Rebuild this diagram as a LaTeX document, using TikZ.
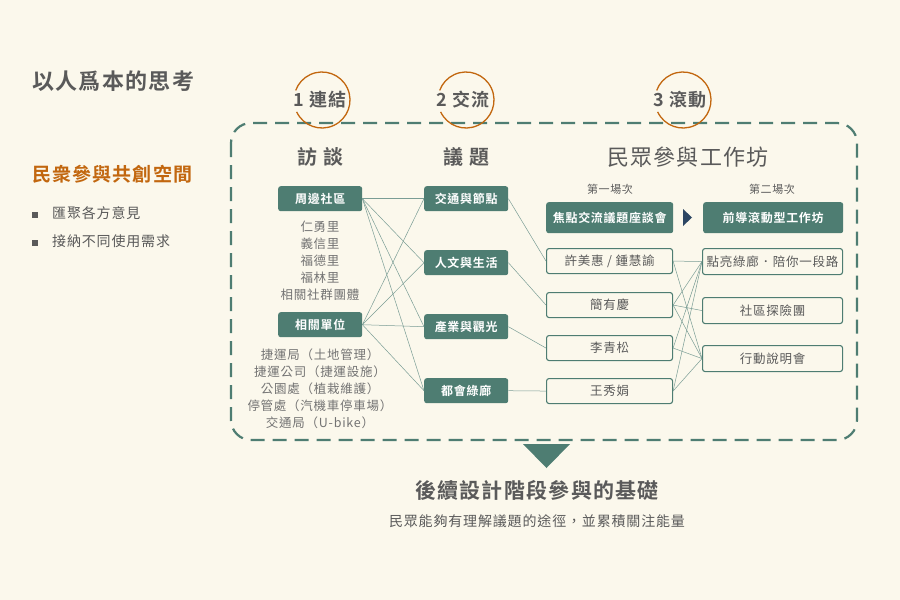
\documentclass[tikz,border=0pt]{standalone}
\usepackage{fontspec}
\newfontfamily\cjk{Noto Sans CJK TC}[LetterSpace=6]
\newfontfamily\cjkb{Noto Sans CJK TC Bold}[LetterSpace=6]
\definecolor{bg}{HTML}{FBF8EC}
\definecolor{gr}{HTML}{4E7D72}
\definecolor{tx}{HTML}{5A5A5A}
\definecolor{og}{HTML}{C2670F}
\begin{document}
\begin{tikzpicture}[x=1pt,y=-1pt,
  fbox/.style={fill=gr,rounded corners=2.5pt,text=white,font=\cjkb\fontsize{12}{14}\selectfont,inner sep=0pt,anchor=north west},
  obox/.style={draw=gr,line width=1.1pt,fill=bg,rounded corners=2.5pt,text=tx,font=\cjk\fontsize{12.5}{14}\selectfont,inner sep=0pt,anchor=north west},
  lnk/.style={draw=gr!75,line width=0.5pt},
  sub/.style={text=tx,font=\cjk\fontsize{12.5}{14}\selectfont,inner sep=0pt},
  head/.style={text=tx,font=\cjkb\fontsize{20}{22}\selectfont,inner sep=0pt},
  stp/.style={text=tx,font=\cjkb\fontsize{18}{20}\selectfont,inner sep=0pt},
  ring/.style={draw=og,line width=1.3pt}]
\fill[bg] (0,0) rectangle (900,600);
\useasboundingbox (0,0) rectangle (900,600);
% left texts
\node[text=tx,font=\cjkb\fontsize{22}{24}\selectfont,anchor=west,inner sep=0pt] (title) at (32,81) {以人爲本的思考};
\node[text=og,font=\cjkb\fontsize{19}{21}\selectfont,anchor=west,inner sep=0pt] (sub) at (32,174) {民衆參與共創空間};
\node[text=tx,font=\cjk\fontsize{14}{16}\selectfont,anchor=west,inner sep=0pt] (b1) at (32,213) {\rule{6pt}{6pt}\hspace{14pt}匯聚各方意見};
\node[text=tx,font=\cjk\fontsize{14}{16}\selectfont,anchor=west,inner sep=0pt] (b2) at (32,241) {\rule{6pt}{6pt}\hspace{14pt}接納不同使用需求};
% frame
\draw[gr,line width=2.2pt,dash pattern=on 14pt off 8pt,rounded corners=20pt] (231,123) rectangle (857,440);
\fill[gr] (523,444) -- (570,444) -- (546.5,468) -- cycle;
% rings
\foreach \cx in {322,466,683}{
  \draw[ring] (\cx,100) ++(155:28) arc[start angle=155,end angle=-160,radius=28];
}
\node[stp] (s1) at (320,100) {1 連結};
\node[stp] (s2) at (463,100) {2 交流};
\node[stp] (s3) at (680,100) {3 滾動};
% headings
\node[head] (h1) at (320,157) {訪\hspace{6pt}談};
\node[head] (h2) at (466,157) {議\hspace{6pt}題};
\node[head,font=\cjk\fontsize{22}{24}\selectfont] (h3) at (688,157) {民眾參與工作坊};
\node[sub,font=\cjk\fontsize{11}{13}\selectfont] (l1) at (610,189) {第一場次};
\node[sub,font=\cjk\fontsize{11}{13}\selectfont] (l2) at (772,189) {第二場次};
% col1
\node[fbox,minimum width=84pt,minimum height=25pt] (a1) at (278,186) {周邊社區};
\node[fbox,minimum width=84pt,minimum height=25pt] (a2) at (278,312) {相關單位};
\node[sub,align=center,text=tx!85] (a1t) at (320,261) {仁勇里\\[3pt]義信里\\[3pt]福德里\\[3pt]福林里\\[3pt]相關社群團體};
\node[sub,align=center,text=tx!85] (a2t) at (320,389) {捷運局（土地管理）\\[3pt]捷運公司（捷運設施）\\[3pt]公園處（植栽維護）\\[3pt]停管處（汽機車停車場）\\[3pt]交通局（U-bike）};
% col2
\node[fbox,minimum width=84pt,minimum height=25pt] (b1n) at (424,186) {交通與節點};
\node[fbox,minimum width=84pt,minimum height=25pt] (b2n) at (424,250) {人文與生活};
\node[fbox,minimum width=84pt,minimum height=25pt] (b3n) at (424,314) {產業與觀光};
\node[fbox,minimum width=84pt,minimum height=25pt] (b4n) at (424,378) {都會綠廊};
% col3
\node[fbox,minimum width=127pt,minimum height=31pt] (c0) at (546,202) {焦點交流議題座談會};
\node[obox,minimum width=126pt,minimum height=25pt] (c1) at (546,248) {許美惠 / 鍾慧諭};
\node[obox,minimum width=126pt,minimum height=25pt] (c2) at (546,292) {簡有慶};
\node[obox,minimum width=126pt,minimum height=25pt] (c3) at (546,335) {李青松};
\node[obox,minimum width=126pt,minimum height=25pt] (c4) at (546,378) {王秀娟};
\fill[gr!80!blue!70!black] (683,209) -- (692,217.5) -- (683,226) -- cycle;
% col4
\node[fbox,minimum width=140pt,minimum height=31pt] (d0) at (703,202) {前導滾動型工作坊};
\node[obox,minimum width=140pt,minimum height=26pt] (d1) at (702,248) {點亮綠廊．陪你一段路};
\node[obox,minimum width=140pt,minimum height=26pt] (d2) at (702,297) {社區探險團};
\node[obox,minimum width=140pt,minimum height=26pt] (d3) at (702,345) {行動說明會};
% links
\foreach \a in {a1,a2}{\foreach \b in {b1n,b2n,b3n,b4n}{\draw[lnk] (\a.east) -- (\b.west);}}
\draw[lnk] (b1n.east) -- (c1.west);
\draw[lnk] (b2n.east) -- (c2.west);
\draw[lnk] (b3n.east) -- (c3.west);
\draw[lnk] (b4n.east) -- (c4.west);
\draw[lnk] (c1.east) -- (d1.west); \draw[lnk] (c1.east) -- (d3.west);
\draw[lnk] (c2.east) -- (d1.west); \draw[lnk] (c2.east) -- (d2.west); \draw[lnk] (c2.east) -- (d3.west);
\draw[lnk] (c3.east) -- (d1.west); \draw[lnk] (c3.east) -- (d3.west);
\draw[lnk] (c4.east) -- (d1.west); \draw[lnk] (c4.east) -- (d3.west);
% bottom
\node[text=tx,font=\cjkb\fontsize{21}{23}\selectfont,inner sep=0pt] (f1) at (537,490) {後續設計階段參與的基礎};
\node[text=tx,font=\cjk\fontsize{14}{16}\selectfont,inner sep=0pt] (f2) at (537,521) {民眾能夠有理解議題的途徑，並累積關注能量};
\end{tikzpicture}
\end{document}
